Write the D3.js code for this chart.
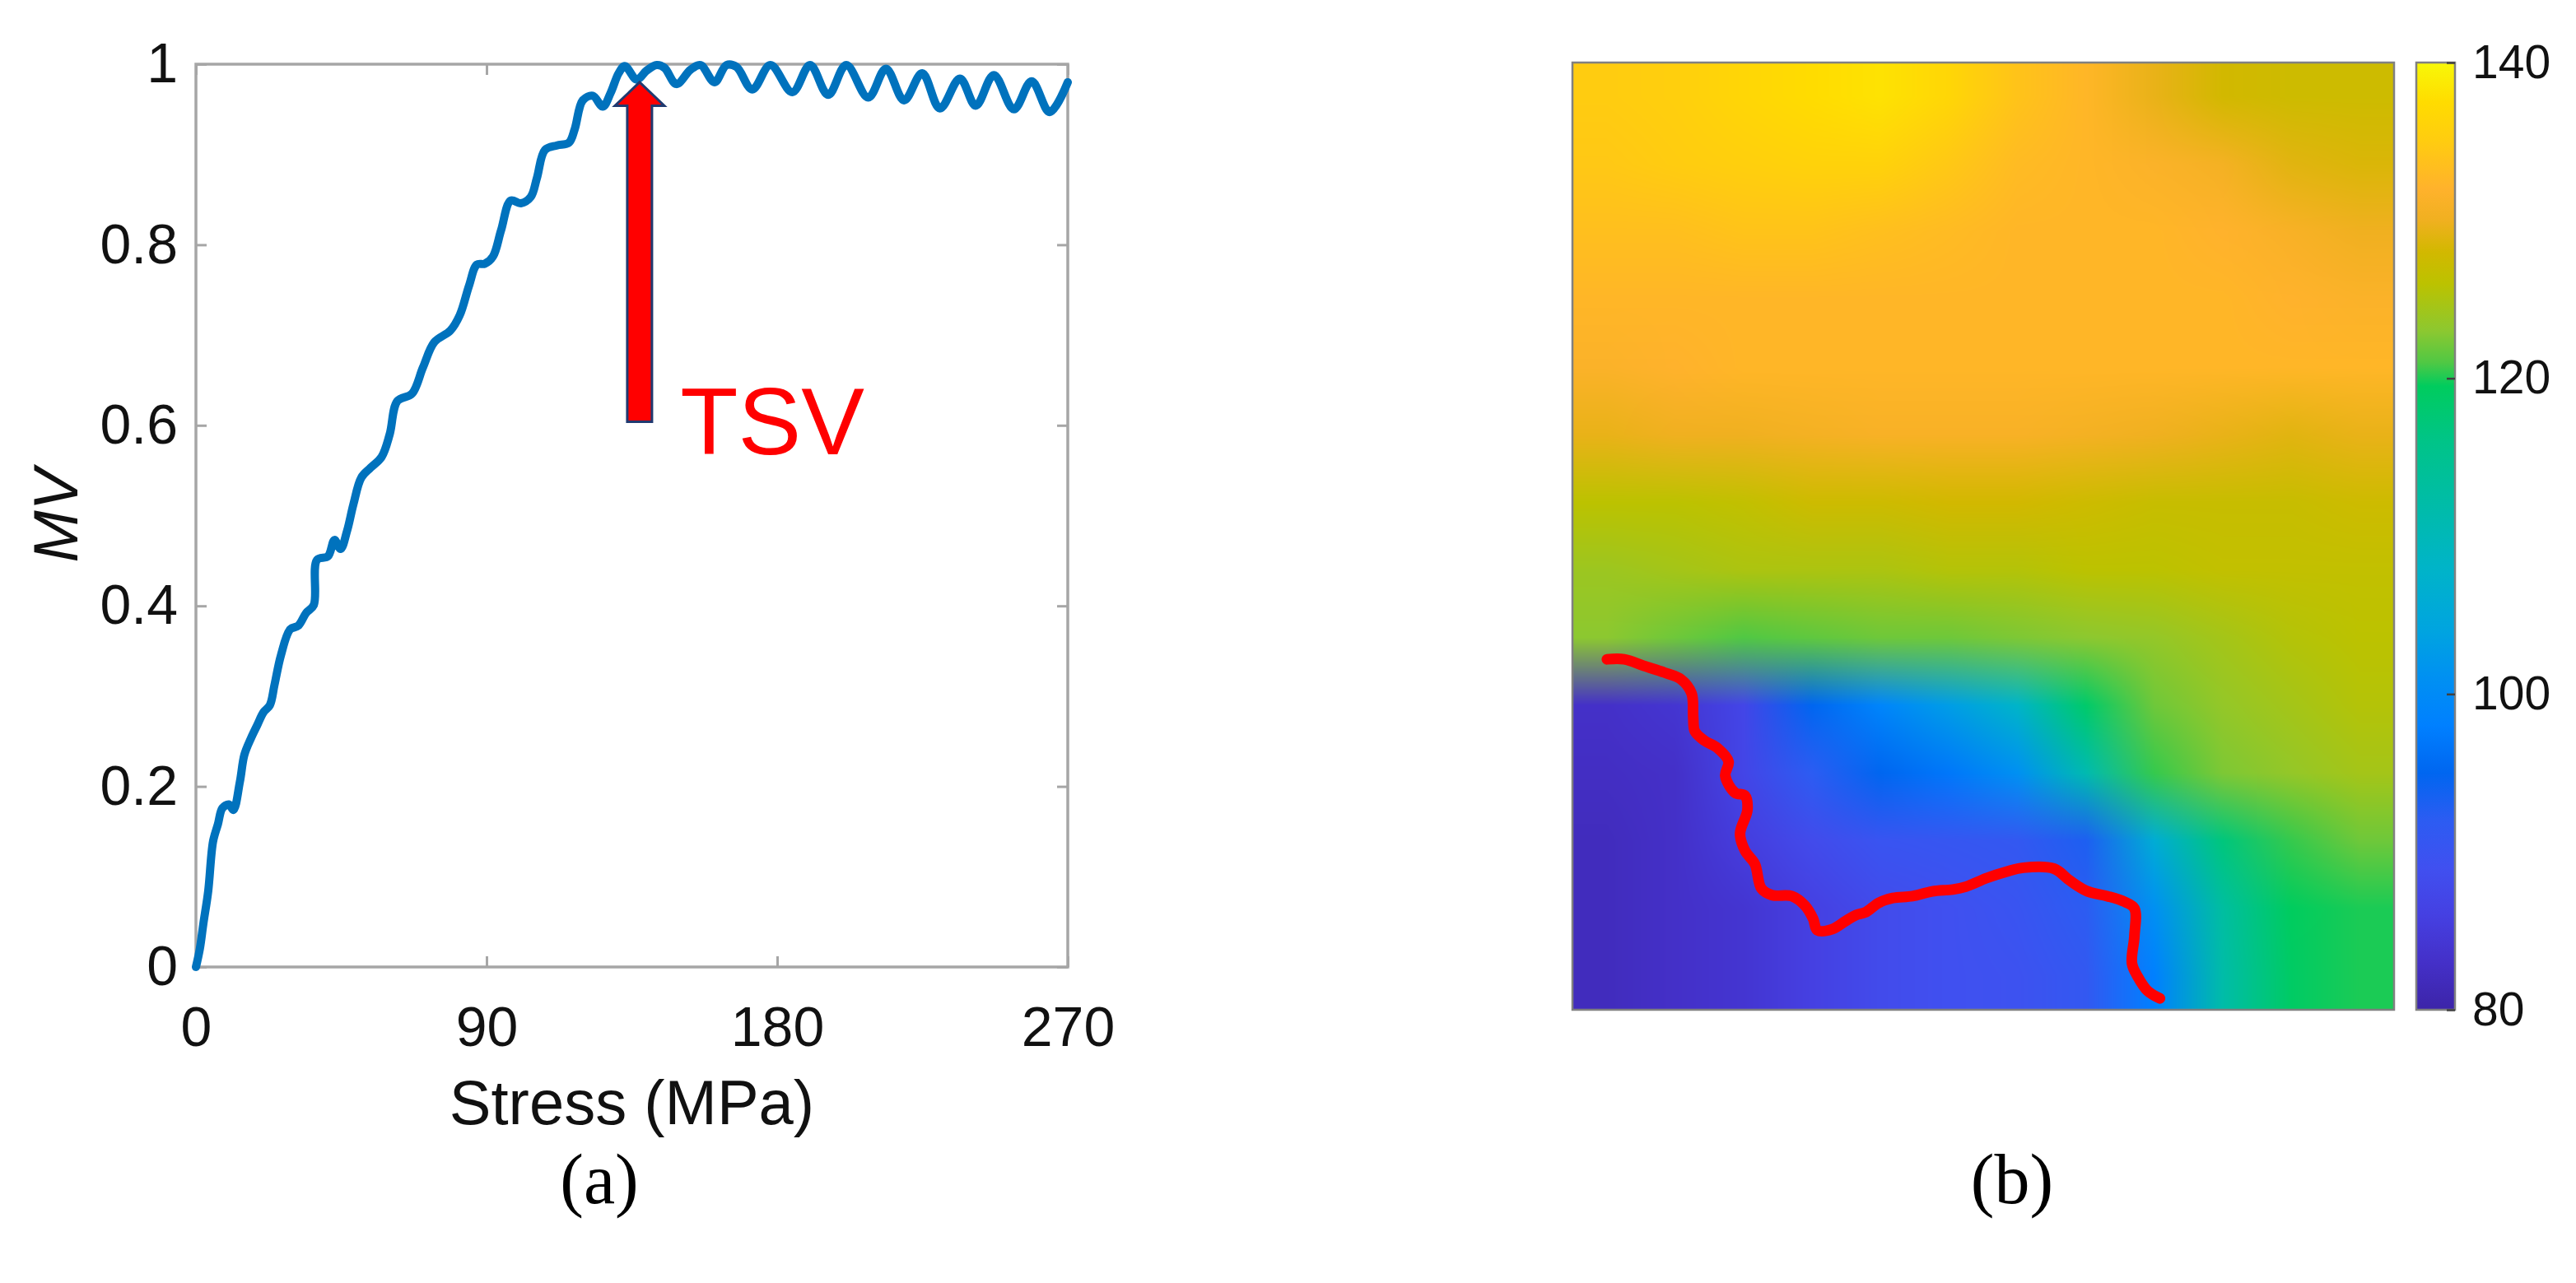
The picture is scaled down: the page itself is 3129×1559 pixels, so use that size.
<!DOCTYPE html>
<html>
<head>
<meta charset="utf-8">
<script src="https://cdn.jsdelivr.net/npm/d3@7"></script>
<style>
  html, body { margin: 0; padding: 0; background: #fff; }
  svg { display: block; }
</style>
</head>
<body>
<svg id="fig" width="3129" height="1559"></svg>
<script>
// ---- panel (a): MV against stress
const stress = [0, 1.2, 2.3, 3.8, 5.3, 6.8, 8.2, 10.2, 11.6, 13.6, 15.0, 17.0, 19.0, 20.9, 22.9,
  24.3, 26.3, 29.2, 31.7, 34.1, 36.5, 37.5, 40.9, 42.9, 44.8, 46.8, 48.8, 51.2, 54.1, 57.5,
  60.0, 62.4, 66.9, 70.3, 73.8, 78.8, 81.7, 84.6, 87.0, 89.5, 92.0, 94.5, 97.5, 100.6, 103.7,
  105.6, 108.1, 111.8, 115.5, 117.3, 119.8, 122.9, 126.0, 128.4, 130.9, 132.8, 136.5, 139.6,
  142.7, 145.1, 148.8, 153.2, 156.3, 160.6, 164.3, 167.4, 172.3, 177.9, 184.7, 190.2, 195.8,
  201.4, 208.2, 213.7, 219.3, 224.9, 230.4, 236.6, 241.5, 247.1, 253.3, 258.8, 264.4, 270];
const mv = [0, 0.02, 0.048, 0.084, 0.139, 0.158, 0.176, 0.18, 0.174, 0.205, 0.235, 0.253, 0.268, 0.282, 0.29,
  0.312, 0.345, 0.374, 0.378, 0.392, 0.401, 0.451, 0.455, 0.473, 0.463, 0.483, 0.513, 0.542, 0.553, 0.565,
  0.59, 0.627, 0.635, 0.664, 0.692, 0.705, 0.722, 0.755, 0.778, 0.779, 0.787, 0.816, 0.849, 0.846, 0.853,
  0.874, 0.905, 0.910, 0.913, 0.928, 0.960, 0.965, 0.953, 0.968, 0.990, 0.998, 0.983, 0.993,
  0.999, 0.996, 0.978, 0.994, 0.999, 0.980, 0.999, 0.997, 0.972, 0.999, 0.969, 0.999, 0.966,
  0.999, 0.963, 0.995, 0.960, 0.990, 0.951, 0.984, 0.954, 0.988, 0.950, 0.981, 0.947, 0.980];
const stressTicks = [0, 90, 180, 270];
const mvTicks = [0, 0.2, 0.4, 0.6, 0.8, 1];
// TSV arrow: stress position, tail / head-base / tip in MV units
const tsvStress = 137.4;
const tsvTail = 0.604, tsvHeadBase = 0.954, tsvTip = 0.98;
const tsvTextAt = [150, 0.568];

// ---- panel (b): map values (rows top -> bottom, 12 columns)
const mapValues = [
  [135, 135.5, 136.5, 137.5, 138, 136.5, 134, 132.5, 129.5, 128, 127.5, 127.5],
  [134.5, 135, 135.5, 136, 136, 134.5, 133, 132.5, 131.5, 130.5, 129, 128.5],
  [133.5, 133.5, 134, 134, 133.5, 133, 132.5, 132.5, 132.5, 132, 131, 130],
  [132.5, 132.5, 132.5, 132.5, 132.5, 132.5, 132.5, 132.5, 132.5, 132.5, 132, 131.5],
  [131.5, 132, 132.5, 132.5, 132.5, 132.5, 132.5, 132.5, 132.5, 132.5, 132.5, 132.5],
  [129.5, 130, 130, 130.5, 131, 131, 131, 130.5, 130, 129.5, 129, 129.5],
  [126, 126, 126.5, 127.5, 127.5, 128, 128, 127.5, 127, 127, 127, 127.5],
  [124, 124.5, 125, 125, 125, 125.5, 125.5, 126, 126, 126.5, 126.5, 126.5],
  [123, 122, 121, 121.5, 122, 122, 122.5, 123, 123.5, 124.5, 125.5, 126],
  [83, 84, 87, 95, 99, 103, 108, 118.5, 122, 123.5, 124.5, 125.5],
  [82.5, 83, 87, 92, 95, 97, 101, 111, 120.5, 122.5, 123.5, 124.5],
  [82, 83, 85.5, 88, 90, 90.5, 91, 93, 106, 117, 120.5, 122],
  [82, 83, 84, 86, 88, 89, 90, 92, 101, 113, 119.5, 120],
  [82, 83, 84, 86, 88, 89, 89.5, 91, 98, 112, 119, 120]
];
const cbarTicks = [80, 100, 120, 140];
const cmapStops = [80, 83, 86, 89, 92, 95, 98, 101, 104, 108, 112, 116, 119.5, 121, 123, 126, 128, 130, 132, 135, 137.5, 140];
const cmapColors = ["#3c24a8", "#4430c8", "#4540e2", "#4050f0", "#2c5cf2", "#0066f0", "#0080ff", "#0090f2",
  "#00a4e0", "#00b4c8", "#00bca8", "#00c488", "#00cc5e", "#50c844", "#8cc830", "#bcc200", "#d2b800",
  "#f0b020", "#ffb22c", "#ffcc10", "#ffdc00", "#f8f808"];
// red line on the map, as fractions of the map width / height
const lineFx = [0.042, 0.063, 0.087, 0.112, 0.132, 0.145, 0.147, 0.149, 0.161, 0.177, 0.190, 0.186, 0.198, 0.210,
  0.213, 0.204, 0.210, 0.222, 0.230, 0.243, 0.267, 0.283, 0.293, 0.298, 0.316, 0.333, 0.345, 0.357, 0.373,
  0.390, 0.414, 0.438, 0.463, 0.479, 0.504, 0.529, 0.549, 0.586, 0.606, 0.627, 0.651, 0.672, 0.684, 0.684,
  0.681, 0.688, 0.700, 0.715];
const lineFy = [0.630, 0.630, 0.637, 0.644, 0.651, 0.666, 0.691, 0.706, 0.716, 0.724, 0.738, 0.753, 0.771, 0.774,
  0.789, 0.814, 0.832, 0.846, 0.872, 0.879, 0.880, 0.890, 0.904, 0.916, 0.915, 0.906, 0.900, 0.897, 0.887,
  0.882, 0.880, 0.875, 0.873, 0.870, 0.861, 0.854, 0.850, 0.851, 0.864, 0.875, 0.880, 0.886, 0.893, 0.922,
  0.951, 0.965, 0.980, 0.988];

const svg = d3.select("#fig");
const sans = "'Liberation Sans', Arial, Helvetica, sans-serif";
const serif = "'Liberation Serif', 'Times New Roman', serif";
const boxGray = "#a6a6a6";

// ================= (a) =================
const x = d3.scaleLinear().domain([0, 270]).range([238, 1297]);
const y = d3.scaleLinear().domain([0, 1]).range([1175, 78]);

const gA = svg.append("g");

function styleAxis(g) {
  g.select(".domain").remove();
  g.selectAll(".tick line").attr("stroke", boxGray).attr("stroke-width", 3);
  g.selectAll(".tick text").attr("fill", "#111").style("font-family", sans).style("font-size", "68px");
}

gA.append("g").attr("transform", `translate(0,${y(0)})`)
  .call(d3.axisBottom(x).tickValues(stressTicks).tickSizeInner(-13).tickSizeOuter(0).tickPadding(48))
  .call(styleAxis);
gA.append("g").attr("transform", `translate(0,${y(1)})`)
  .call(d3.axisTop(x).tickValues(stressTicks).tickSizeInner(-13).tickSizeOuter(0).tickFormat(""))
  .call(styleAxis);
gA.append("g").attr("transform", `translate(${x(0)},0)`)
  .call(d3.axisLeft(y).tickValues(mvTicks).tickSizeInner(-13).tickSizeOuter(0).tickPadding(22).tickFormat(d => String(d)))
  .call(styleAxis);
gA.append("g").attr("transform", `translate(${x(270)},0)`)
  .call(d3.axisRight(y).tickValues(mvTicks).tickSizeInner(-13).tickSizeOuter(0).tickFormat(""))
  .call(styleAxis);

gA.append("rect")
  .attr("x", x(0)).attr("y", y(1)).attr("width", x(270) - x(0)).attr("height", y(0) - y(1))
  .attr("fill", "none").attr("stroke", boxGray).attr("stroke-width", 3.5);

const pts = stress.map((s, i) => [s, mv[i]]);
gA.append("path")
  .datum(pts)
  .attr("d", d3.line().x(d => x(d[0])).y(d => y(d[1])).curve(d3.curveCatmullRom.alpha(0.5)))
  .attr("fill", "none").attr("stroke", "#0072bd").attr("stroke-width", 10)
  .attr("stroke-linejoin", "round").attr("stroke-linecap", "round");

// TSV arrow
const ax = x(tsvStress), shaftHalf = 15, headHalf = 30;
const arrowPts = [
  [ax - shaftHalf, y(tsvTail)], [ax - shaftHalf, y(tsvHeadBase)], [ax - headHalf, y(tsvHeadBase)],
  [ax, y(tsvTip)], [ax + headHalf, y(tsvHeadBase)], [ax + shaftHalf, y(tsvHeadBase)], [ax + shaftHalf, y(tsvTail)]
];
gA.append("polygon")
  .attr("points", arrowPts.map(p => p.join(",")).join(" "))
  .attr("fill", "#ff0000").attr("stroke", "#203a70").attr("stroke-width", 3).attr("stroke-linejoin", "miter");
gA.append("text")
  .attr("x", x(tsvTextAt[0])).attr("y", y(tsvTextAt[1]))
  .attr("fill", "#ff0000").style("font-family", sans).style("font-size", "115px")
  .text("TSV");

gA.append("text")
  .attr("x", (x(0) + x(270)) / 2).attr("y", 1366)
  .attr("text-anchor", "middle").attr("fill", "#111")
  .style("font-family", sans).style("font-size", "76px")
  .text("Stress (MPa)");
gA.append("text")
  .attr("transform", `translate(94,${(y(0) + y(1)) / 2}) rotate(-90)`)
  .attr("text-anchor", "middle").attr("fill", "#111")
  .style("font-family", sans).style("font-size", "76px").style("font-style", "italic")
  .text("MV");

// ================= (b) =================
const mx = d3.scaleLinear().domain([0, 1]).range([1910, 2908]);
const my = d3.scaleLinear().domain([0, 1]).range([76, 1227]);
const color = d3.scaleLinear().domain(cmapStops).range(cmapColors).interpolate(d3.interpolateRgb).clamp(true);

// shade the grid: colour each node, then blend the node colours bilinearly across the map
const nRows = mapValues.length, nCols = mapValues[0].length;
const nodeRgb = mapValues.map(row => row.map(v => d3.rgb(color(v))));
const W = Math.round(mx(1) - mx(0)), H = Math.round(my(1) - my(0));
const cv = document.createElement("canvas");
cv.width = W; cv.height = H;
const ctx = cv.getContext("2d");
const img = ctx.createImageData(W, H);
const gx = d3.scaleLinear().domain([0, W]).range([-0.5, nCols - 0.5]);
const gy = d3.scaleLinear().domain([0, H]).range([-0.5, nRows - 0.5]);
for (let py = 0; py < H; py++) {
  const fy = Math.max(0, Math.min(nRows - 1, gy(py + 0.5)));
  const j0 = Math.min(nRows - 2, Math.floor(fy)), ty = fy - j0;
  for (let px = 0; px < W; px++) {
    const fx = Math.max(0, Math.min(nCols - 1, gx(px + 0.5)));
    const i0 = Math.min(nCols - 2, Math.floor(fx)), tx = fx - i0;
    const a = nodeRgb[j0][i0], b = nodeRgb[j0][i0 + 1], c = nodeRgb[j0 + 1][i0], d = nodeRgb[j0 + 1][i0 + 1];
    const k = 4 * (py * W + px);
    const w00 = (1 - tx) * (1 - ty), w10 = tx * (1 - ty), w01 = (1 - tx) * ty, w11 = tx * ty;
    img.data[k] = a.r * w00 + b.r * w10 + c.r * w01 + d.r * w11;
    img.data[k + 1] = a.g * w00 + b.g * w10 + c.g * w01 + d.g * w11;
    img.data[k + 2] = a.b * w00 + b.b * w10 + c.b * w01 + d.b * w11;
    img.data[k + 3] = 255;
  }
}
ctx.putImageData(img, 0, 0);

const gB = svg.append("g");
gB.append("image")
  .attr("href", cv.toDataURL())
  .attr("x", mx(0)).attr("y", my(0)).attr("width", mx(1) - mx(0)).attr("height", my(1) - my(0))
  .attr("preserveAspectRatio", "none");
gB.append("rect")
  .attr("x", mx(0)).attr("y", my(0)).attr("width", mx(1) - mx(0)).attr("height", my(1) - my(0))
  .attr("fill", "none").attr("stroke", "#808080").attr("stroke-width", 2.5);

gB.append("path")
  .datum(lineFx.map((fx, i) => [fx, lineFy[i]]))
  .attr("d", d3.line().x(d => mx(d[0])).y(d => my(d[1])).curve(d3.curveCatmullRom.alpha(0.5)))
  .attr("fill", "none").attr("stroke", "#ff0000").attr("stroke-width", 13)
  .attr("stroke-linejoin", "round").attr("stroke-linecap", "round");

// colorbar
const cb = d3.scaleLinear().domain([80, 140]).range([1227, 76]);
const cbX0 = 2935, cbX1 = 2982;
const grad = svg.append("defs").append("linearGradient")
  .attr("id", "cmap").attr("x1", 0).attr("y1", 1).attr("x2", 0).attr("y2", 0);
cmapStops.forEach((v, i) => grad.append("stop")
  .attr("offset", (v - 80) / 60).attr("stop-color", cmapColors[i]));
gB.append("rect")
  .attr("x", cbX0).attr("y", cb(140)).attr("width", cbX1 - cbX0).attr("height", cb(80) - cb(140))
  .attr("fill", "url(#cmap)").attr("stroke", "#808080").attr("stroke-width", 2.5);
gB.append("g").attr("transform", `translate(${cbX1},0)`)
  .call(d3.axisRight(cb).tickValues(cbarTicks).tickSizeInner(-10).tickSizeOuter(0).tickPadding(21))
  .call(g => {
    g.select(".domain").remove();
    g.selectAll(".tick line").attr("stroke", "#404040").attr("stroke-width", 2.5);
    g.selectAll(".tick text").attr("fill", "#111").style("font-family", sans).style("font-size", "57px");
  });

// captions
svg.append("text").attr("x", 728).attr("y", 1462).attr("text-anchor", "middle")
  .style("font-family", serif).style("font-size", "86px").attr("fill", "#000").text("(a)");
svg.append("text").attr("x", 2444).attr("y", 1462).attr("text-anchor", "middle")
  .style("font-family", serif).style("font-size", "86px").attr("fill", "#000").text("(b)");
</script>
</body>
</html>
